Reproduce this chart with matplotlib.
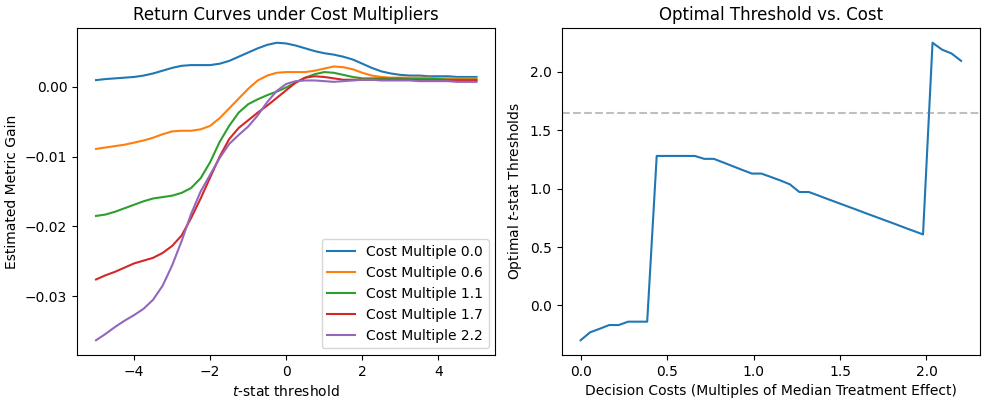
import matplotlib
matplotlib.use("Agg")
import matplotlib.pyplot as plt
import numpy as np

# t-stat thresholds for the return curves
t_grid = np.arange(-5, 5.001, 0.25)

cost_labels = ["0.0", "0.6", "1.1", "1.7", "2.2"]

gain_c00 = [0.00095, 0.0011, 0.0012, 0.0013, 0.0014, 0.0016, 0.0019, 0.0023, 0.0027, 0.0030,
            0.0031, 0.0031, 0.0031, 0.0033, 0.0037, 0.0043, 0.0049, 0.0055, 0.0060, 0.0063,
            0.0062, 0.0059, 0.0055, 0.0051, 0.0048, 0.0046, 0.0043, 0.0039, 0.0033, 0.0027,
            0.0022, 0.0019, 0.0017, 0.0016, 0.0016, 0.0015, 0.0015, 0.0015, 0.0014, 0.0014,
            0.0014]
gain_c06 = [-0.0089, -0.0087, -0.0085, -0.0083, -0.0080, -0.0077, -0.0073, -0.0068, -0.0064, -0.0063,
            -0.0063, -0.0061, -0.0056, -0.0045, -0.0031, -0.0017, -0.0003, 0.0009, 0.0016, 0.0020,
            0.0021, 0.0021, 0.0021, 0.0023, 0.0026, 0.0029, 0.0028, 0.0025, 0.0020, 0.0016,
            0.0014, 0.0013, 0.0013, 0.0013, 0.0013, 0.0013, 0.0012, 0.0012, 0.0012, 0.0012,
            0.0012]
gain_c11 = [-0.0185, -0.0183, -0.0179, -0.0174, -0.0169, -0.0164, -0.0160, -0.0158, -0.0156, -0.0152,
            -0.0145, -0.0131, -0.0108, -0.0079, -0.0056, -0.0037, -0.0025, -0.0018, -0.0012, -0.0007,
            -0.0001, 0.0006, 0.0013, 0.0018, 0.0021, 0.0020, 0.0017, 0.0014, 0.0012, 0.0012,
            0.0012, 0.0012, 0.0012, 0.0011, 0.0011, 0.0011, 0.0011, 0.0010, 0.0010, 0.0010,
            0.0010]
gain_c17 = [-0.0276, -0.0270, -0.0265, -0.0259, -0.0253, -0.0249, -0.0245, -0.0238, -0.0228, -0.0213,
            -0.0188, -0.0160, -0.0130, -0.0100, -0.0075, -0.0059, -0.0048, -0.0037, -0.0027, -0.0016,
            -0.0005, 0.0006, 0.0013, 0.0015, 0.0014, 0.0012, 0.0010, 0.0010, 0.0010, 0.0010,
            0.0010, 0.0010, 0.0010, 0.0010, 0.0009, 0.0009, 0.0009, 0.0009, 0.0009, 0.0009,
            0.0009]
gain_c22 = [-0.0363, -0.0354, -0.0344, -0.0335, -0.0327, -0.0318, -0.0305, -0.0285, -0.0256, -0.0221,
            -0.0182, -0.0150, -0.0126, -0.0102, -0.0082, -0.0069, -0.0057, -0.0041, -0.0022, -0.0006,
            0.0004, 0.0008, 0.0009, 0.0009, 0.0008, 0.0007, 0.0008, 0.0009, 0.0010, 0.0010,
            0.0009, 0.0009, 0.0009, 0.0009, 0.0008, 0.0008, 0.0008, 0.0008, 0.0007, 0.0007,
            0.0007]

# optimal threshold for each decision cost
cost_grid = np.linspace(0, 2.2, 41)
opt_threshold = [-0.298, -0.23, -0.20, -0.168, -0.168, -0.139, -0.139, -0.139, 1.28, 1.28,
                 1.28, 1.28, 1.28, 1.255, 1.255, 1.224, 1.192, 1.16, 1.129, 1.129,
                 1.10, 1.07, 1.037, 0.971, 0.971, 0.941, 0.910, 0.880, 0.850, 0.820,
                 0.789, 0.759, 0.729, 0.699, 0.668, 0.638, 0.608, 2.249, 2.19, 2.157,
                 2.094]
z_crit = 1.645


def main():
    fig, (ax_curves, ax_opt) = plt.subplots(1, 2, figsize=(9.87, 4.04), dpi=100)
    fig.subplots_adjust(left=0.078, right=0.993, bottom=0.121, top=0.931, wspace=0.158)

    for gains, lab in zip([gain_c00, gain_c06, gain_c11, gain_c17, gain_c22], cost_labels):
        ax_curves.plot(t_grid, gains, label=f"Cost Multiple {lab}")
    ax_curves.set_title("Return Curves under Cost Multipliers")
    ax_curves.set_xlabel(r"$t$-stat threshold")
    ax_curves.set_ylabel("Estimated Metric Gain")
    ax_curves.legend(loc="lower right")

    ax_opt.plot(cost_grid, opt_threshold)
    ax_opt.axhline(z_crit, color="gray", linestyle="--", alpha=0.5)
    ax_opt.set_title("Optimal Threshold vs. Cost")
    ax_opt.set_xlabel("Decision Costs (Multiples of Median Treatment Effect)")
    ax_opt.set_ylabel(r"Optimal $t$-stat Thresholds")

    plt.savefig("out.png")


if __name__ == "__main__":
    main()
